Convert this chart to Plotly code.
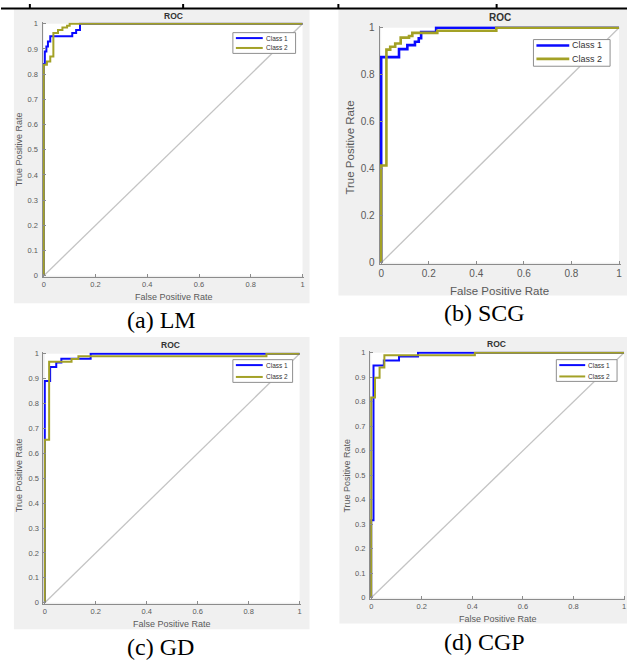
import plotly.graph_objects as go

W, H = 629, 664

# ---------------- data ----------------
captions = ["(a) LM", "(b) SCG", "(c) GD", "(d) CGP"]
class_names = ["Class 1", "Class 2"]
class_colors = ["#0a0aff", "#a3a126"]
diag_color = "#c4c4c4"

x_ticks = [0, 0.2, 0.4, 0.6, 0.8, 1]
x_tick_labels = ["0", "0.2", "0.4", "0.6", "0.8", "1"]
y_ticks_fine = [0, 0.1, 0.2, 0.3, 0.4, 0.5, 0.6, 0.7, 0.8, 0.9, 1]
y_tick_labels_fine = ["0", "0.1", "0.2", "0.3", "0.4", "0.5", "0.6", "0.7", "0.8", "0.9", "1"]
y_ticks_coarse = [0, 0.2, 0.4, 0.6, 0.8, 1]
y_tick_labels_coarse = ["0", "0.2", "0.4", "0.6", "0.8", "1"]

diag_fpr = [0, 1]
diag_tpr = [0, 1]

# (a) LM
lm_c1_fpr = [0, 0, 0.004, 0.01, 0.016, 0.025, 0.11, 0.125, 0.14, 1]
lm_c1_tpr = [0, 0.84, 0.89, 0.91, 0.93, 0.95, 0.963, 0.975, 1.0, 1.0]
lm_c2_fpr = [0, 0, 0.012, 0.025, 0.037, 0.055, 0.072, 0.09, 0.1, 1]
lm_c2_tpr = [0, 0.837, 0.85, 0.87, 0.963, 0.975, 0.985, 0.992, 1.0, 1.0]

# (b) SCG
scg_c1_fpr = [0, 0, 0.075, 0.11, 0.142, 0.158, 0.168, 0.231, 1]
scg_c1_tpr = [0, 0.875, 0.909, 0.926, 0.94, 0.955, 0.982, 1.0, 1.0]
scg_c2_fpr = [0, 0, 0.022, 0.038, 0.059, 0.082, 0.117, 0.131, 0.236, 0.484, 1]
scg_c2_tpr = [0, 0.414, 0.907, 0.919, 0.933, 0.958, 0.965, 0.978, 0.987, 1.0, 1.0]

# (c) GD
gd_c1_fpr = [0, 0, 0.021, 0.045, 0.065, 0.18, 1]
gd_c1_tpr = [0, 0.89, 0.947, 0.965, 0.98, 1.0, 1.0]
gd_c2_fpr = [0, 0, 0.017, 0.105, 0.132, 0.87, 1]
gd_c2_tpr = [0, 0.655, 0.968, 0.979, 0.99, 1.0, 1.0]

# (d) CGP
cgp_c1_fpr = [0, 0, 0.009, 0.05, 0.11, 0.185, 1]
cgp_c1_tpr = [0, 0.316, 0.948, 0.968, 0.985, 1.0, 1.0]
cgp_c2_fpr = [0, 0, 0.015, 0.033, 0.052, 0.41, 1]
cgp_c2_tpr = [0, 0.817, 0.898, 0.94, 0.99, 1.0, 1.0]

series = [
    [(lm_c1_fpr, lm_c1_tpr), (lm_c2_fpr, lm_c2_tpr)],
    [(scg_c1_fpr, scg_c1_tpr), (scg_c2_fpr, scg_c2_tpr)],
    [(gd_c1_fpr, gd_c1_tpr), (gd_c2_fpr, gd_c2_tpr)],
    [(cgp_c1_fpr, cgp_c1_tpr), (cgp_c2_fpr, cgp_c2_tpr)],
]
y_tick_sets = [
    (y_ticks_fine, y_tick_labels_fine),
    (y_ticks_coarse, y_tick_labels_coarse),
    (y_ticks_fine, y_tick_labels_fine),
    (y_ticks_fine, y_tick_labels_fine),
]

# ---------------- layout geometry (pixels) ----------------
panels = [
    dict(bg=(13, 5, 310, 303), plot=(43, 20, 303, 275), title=(173, 12), xlab=(174, 297),
         ylab=(18, 147), cap=(161, 320), leg=(233, 29, 296, 50), leg_line=(236, 263),
         leg_rows=(34.5, 44.5), fs_tick=7.5, fs_lab=9, fs_title=8.5, fs_leg=6.5, lw=2),
    dict(bg=(339, 5, 629, 295), plot=(382, 24, 621, 262), title=(501, 14), xlab=(501, 290),
         ylab=(351, 145), cap=(486, 313), leg=(535, 36, 612, 63), leg_line=(538, 571),
         leg_rows=(42, 55.5), fs_tick=10, fs_lab=11.5, fs_title=10, fs_leg=9, lw=2.6),
    dict(bg=(13, 337, 310, 633), plot=(44, 354, 300, 606), title=(170, 345), xlab=(172, 628),
         ylab=(18, 477), cap=(160, 651), leg=(233, 360, 293, 383), leg_line=(236, 263),
         leg_rows=(365.5, 377.5), fs_tick=7.5, fs_lab=9, fs_title=8.5, fs_leg=6.5, lw=2),
    dict(bg=(340, 337, 629, 627), plot=(372, 353, 626, 601), title=(498, 344), xlab=(499, 622),
         ylab=(348, 477), cap=(486, 646), leg=(558, 360, 619, 382), leg_line=(561, 587),
         leg_rows=(365.5, 377), fs_tick=7.5, fs_lab=9, fs_title=8.5, fs_leg=6.5, lw=2),
]

FONT = "Liberation Sans, Arial, sans-serif"
SERIF = "Liberation Serif, Times New Roman, serif"
AX_COLOR = "#8c8c8c"
TXT_COLOR = "#5a5a5a"


def px(x):
    return x / W


def py(y):
    return 1 - y / H


fig = go.Figure()
shapes = []
annotations = []

# table rule at top
shapes.append(dict(type="line", xref="paper", yref="paper", x0=0, x1=1,
                   y0=py(4.5), y1=py(4.5), line=dict(color="black", width=2), layer="above"))
for vx in (29, 183, 339, 498):
    shapes.append(dict(type="line", xref="paper", yref="paper", x0=px(vx), x1=px(vx),
                       y0=py(0), y1=py(4.5), line=dict(color="black", width=2), layer="above"))

for i, p in enumerate(panels):
    n = i + 1
    xa = "x" if n == 1 else f"x{n}"
    ya = "y" if n == 1 else f"y{n}"
    # grey figure background and white axes area
    bx0, by0, bx1, by1 = p["bg"]
    shapes.append(dict(type="rect", xref="paper", yref="paper", x0=px(bx0), x1=px(bx1),
                       y0=py(by1), y1=py(by0), fillcolor="#f0f0f0", line=dict(width=0),
                       layer="below"))
    x0, ytop, x1, ybot = p["plot"]
    shapes.append(dict(type="rect", xref="paper", yref="paper", x0=px(x0), x1=px(x1),
                       y0=py(ybot), y1=py(ytop), fillcolor="white", line=dict(width=0),
                       layer="below"))

    pad = p["lw"] / 2 + 0.3
    sx = x1 - x0
    sy = ybot - ytop
    xdom = [px(x0 - pad), px(x1 + pad)]
    ydom = [py(ybot + pad), py(ytop - pad)]
    xr = [-pad / sx, 1 + pad / sx]
    yr = [-pad / sy, 1 + pad / sy]

    yt, ytl = y_tick_sets[i]
    axis_common = dict(showgrid=False, zeroline=False, showline=True, linecolor=AX_COLOR,
                       linewidth=1, ticks="inside", ticklen=3, tickcolor=AX_COLOR,
                       tickwidth=1, tickfont=dict(family=FONT, size=p["fs_tick"], color=TXT_COLOR),
                       ticklabeloverflow="allow", fixedrange=True)
    fig.update_layout(**{
        ("xaxis" if n == 1 else f"xaxis{n}"): dict(domain=xdom, range=xr, anchor=ya,
                                                  tickvals=x_ticks, ticktext=x_tick_labels,
                                                  **axis_common),
        ("yaxis" if n == 1 else f"yaxis{n}"): dict(domain=ydom, range=yr, anchor=xa,
                                                  tickvals=yt, ticktext=ytl,
                                                  ticklabelstandoff=2, **axis_common),
    })

    # traces
    fig.add_trace(go.Scatter(x=diag_fpr, y=diag_tpr, mode="lines", xaxis=xa, yaxis=ya,
                             line=dict(color=diag_color, width=1.3), showlegend=False,
                             hoverinfo="skip"))
    for (fpr, tpr), name, color in zip(series[i], class_names, class_colors):
        fig.add_trace(go.Scatter(x=fpr, y=tpr, mode="lines", name=name, xaxis=xa, yaxis=ya,
                                 line=dict(color=color, width=p["lw"], shape="hv"),
                                 showlegend=False))

    # titles
    annotations.append(dict(text="<b>ROC</b>", x=px(p["title"][0]), y=py(p["title"][1]),
                            xref="paper", yref="paper", showarrow=False, xanchor="center",
                            yanchor="middle", font=dict(family=FONT, size=p["fs_title"],
                                                        color="#333")))
    annotations.append(dict(text="False Positive Rate", x=px(p["xlab"][0]), y=py(p["xlab"][1]),
                            xref="paper", yref="paper", showarrow=False, xanchor="center",
                            yanchor="middle", font=dict(family=FONT, size=p["fs_lab"],
                                                        color=TXT_COLOR)))
    annotations.append(dict(text="True Positive Rate", x=px(p["ylab"][0]), y=py(p["ylab"][1]),
                            xref="paper", yref="paper", showarrow=False, textangle=-90,
                            xanchor="center", yanchor="middle",
                            font=dict(family=FONT, size=p["fs_lab"], color=TXT_COLOR)))
    annotations.append(dict(text=captions[i], x=px(p["cap"][0]), y=py(p["cap"][1]),
                            xref="paper", yref="paper", showarrow=False, xanchor="center",
                            yanchor="middle", font=dict(family=SERIF, size=24, color="black")))

    # legend box
    lx0, ly0, lx1, ly1 = p["leg"]
    shapes.append(dict(type="rect", xref="paper", yref="paper", x0=px(lx0), x1=px(lx1),
                       y0=py(ly1), y1=py(ly0), fillcolor="white",
                       line=dict(color="#8f8f8f", width=1), layer="above"))
    for name, color, ry in zip(class_names, class_colors, p["leg_rows"]):
        shapes.append(dict(type="line", xref="paper", yref="paper",
                           x0=px(p["leg_line"][0]), x1=px(p["leg_line"][1]),
                           y0=py(ry), y1=py(ry), line=dict(color=color, width=p["lw"]),
                           layer="above"))
        annotations.append(dict(text=name, x=px(p["leg_line"][1] + 1), y=py(ry),
                                xref="paper", yref="paper", showarrow=False, xanchor="left",
                                yanchor="middle",
                                font=dict(family=FONT, size=p["fs_leg"], color="#333")))

fig.update_layout(width=W, height=H, margin=dict(l=0, r=0, t=0, b=0),
                  paper_bgcolor="white", plot_bgcolor="white", showlegend=False,
                  shapes=shapes, annotations=annotations)

fig.write_html("out.html", config={"displayModeBar": False},
               post_script="document.body.style.margin='0px';")
